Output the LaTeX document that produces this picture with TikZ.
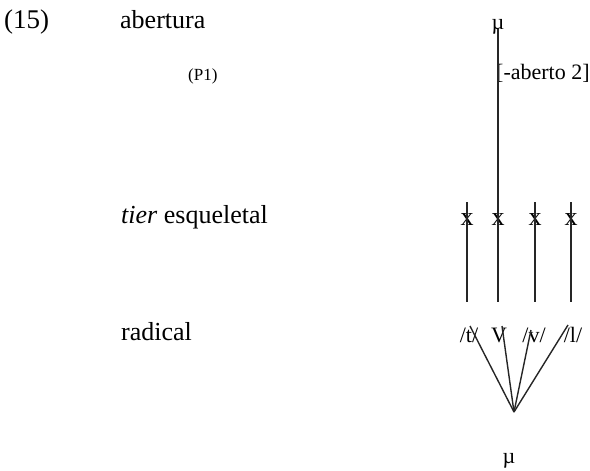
\documentclass[tikz,border=0pt]{standalone}
\usepackage{fontspec}
\setmainfont{Liberation Serif}
\begin{document}
\begin{tikzpicture}[x=1pt,y=-1pt,
  lbl/.style={inner sep=0pt,anchor=base west,font=\fontsize{26}{28}\selectfont},
  seg/.style={inner sep=0pt,anchor=base,font=\fontsize{22}{24}\selectfont},
  xm/.style={inner sep=0pt,anchor=base,font=\fontsize{26}{28}\selectfont},
  ln/.style={line width=1.4pt,black!85}]
\useasboundingbox (0,0) rectangle (590,471);
\node[lbl,font=\fontsize{27}{28}\selectfont] (n15) at (4,28) {(15)};
\node[lbl] (ab) at (120,28) {abertura};
\node[lbl,font=\fontsize{17}{18}\selectfont] (p1) at (188,80) {(P1)};
\node[lbl] (tier) at (121,223) {\textit{tier} esqueletal};
\node[lbl] (rad) at (121,340) {radical};
% top mu
\node[seg] (mut) at (498,29) {µ};
\node[seg,anchor=base west] (feat) at (496,79) {[-aberto 2]};
\coordinate (topa) at (498,29);
\coordinate (topb) at (498,204);
\draw[ln] (topa) -- (topb);
% skeletal x's
\foreach \i/\xx in {1/467,2/498,3/535,4/571}{
  \node[xm] (x\i) at (\xx,225) {x};
  \coordinate (s\i) at (\xx,202);
  \coordinate (e\i) at (\xx,302);
  \draw[ln] (s\i) -- (e\i);
}
% radical row
\node[seg] (r1) at (469,342) {/t/};
\node[seg] (r2) at (499,342) {V};
\node[seg] (r3) at (534,342) {/v/};
\node[seg] (r4) at (573,342) {/l/};
\coordinate (c) at (514,412);
\coordinate (f1) at (470,326);
\coordinate (f2) at (502,326);
\coordinate (f3) at (531,330);
\coordinate (f4) at (568,325);
\foreach \i in {1,2,3,4}{\draw[ln] (f\i) -- (c);}
\node[seg] (mub) at (509,463) {µ};
\end{tikzpicture}
\end{document}
